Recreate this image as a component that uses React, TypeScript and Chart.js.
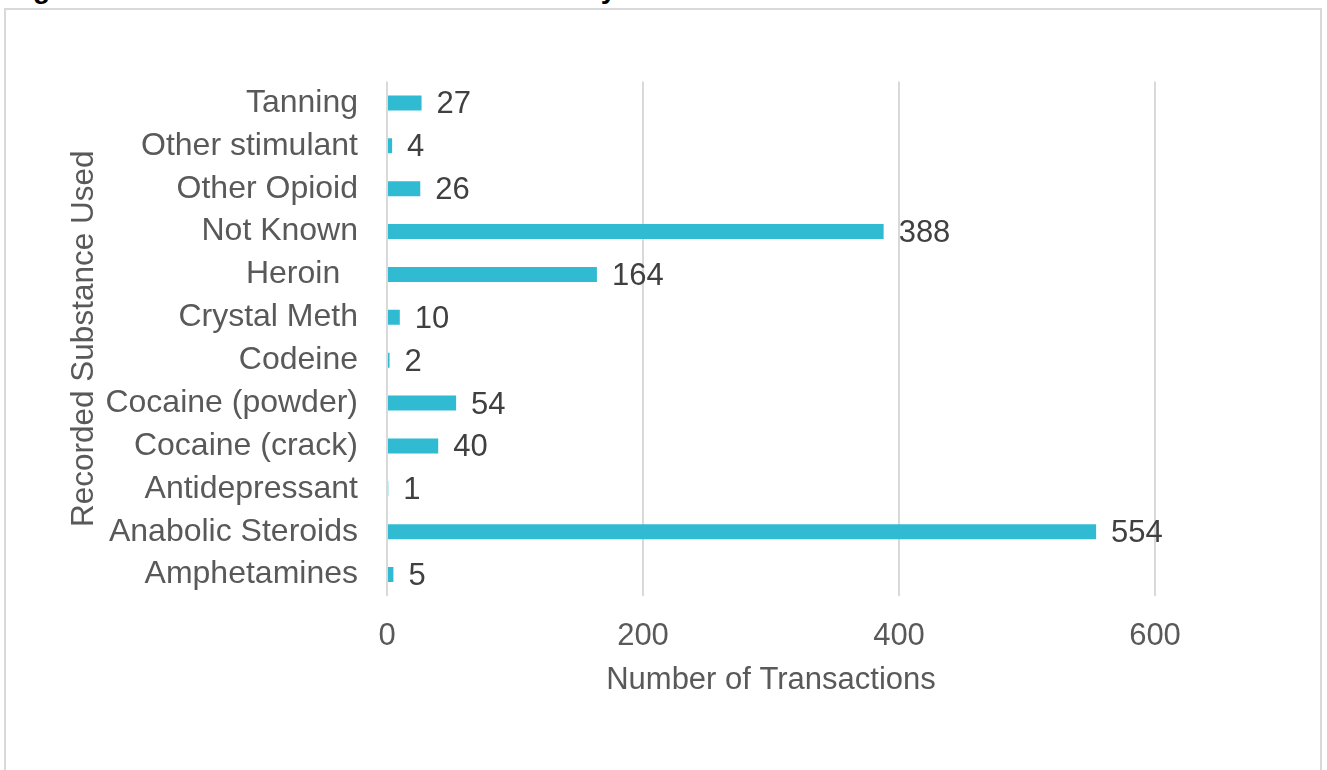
import React, { useEffect, useRef } from 'react';
import { Chart, registerables } from 'chart.js';

Chart.register(...registerables);

const categories = [
  'Tanning',
  'Other stimulant',
  'Other Opioid',
  'Not Known',
  'Heroin  ',
  'Crystal Meth',
  'Codeine',
  'Cocaine (powder)',
  'Cocaine (crack)',
  'Antidepressant',
  'Anabolic Steroids',
  'Amphetamines',
];
const transactions = [27, 4, 26, 388, 164, 10, 2, 54, 40, 1, 554, 5];
const xTicks = [0, 200, 400, 600];

const FONT = '"Liberation Sans", Arial, sans-serif';

const valueLabels = {
  id: 'valueLabels',
  afterDatasetsDraw(chart: any) {
    const ctx = chart.ctx;
    const meta = chart.getDatasetMeta(0);
    ctx.save();
    ctx.font = `31px ${FONT}`;
    ctx.fillStyle = '#404040';
    ctx.textAlign = 'left';
    ctx.textBaseline = 'middle';
    meta.data.forEach((bar: any, i: number) => {
      ctx.fillText(String(transactions[i]), bar.x + 15, bar.y + 2);
    });
    ctx.restore();
  },
};

export default function App() {
  const canvasRef = useRef<HTMLCanvasElement | null>(null);

  useEffect(() => {
    document.body.style.margin = '0';
    const canvas = canvasRef.current;
    if (!canvas) return;
    const chart = new Chart(canvas, {
      type: 'bar',
      data: {
        labels: categories,
        datasets: [
          {
            data: transactions,
            backgroundColor: '#31BBD3',
            borderWidth: 0,
            barPercentage: 0.35,
            categoryPercentage: 1,
          },
        ],
      },
      options: {
        indexAxis: 'y',
        responsive: false,
        animation: false,
        layout: { padding: { left: 59.4, top: 81.5, right: 172, bottom: 67.4 } },
        plugins: {
          legend: { display: false },
          tooltip: { enabled: false },
        },
        scales: {
          x: {
            type: 'linear',
            min: 0,
            max: 600,
            afterBuildTicks: (s: any) => {
              s.ticks = xTicks.map((v) => ({ value: v }));
            },
            afterFit: (s: any) => {
              s.height = 106.6;
            },
            ticks: {
              color: '#595959',
              font: { size: 31, family: FONT },
              padding: 22,
            },
            grid: { color: '#d9d9d9', lineWidth: 2, drawTicks: false },
            border: { display: false },
            title: {
              display: true,
              text: 'Number of Transactions',
              color: '#595959',
              font: { size: 31, family: FONT },
              padding: { top: 4, bottom: 4 },
            },
          },
          y: {
            type: 'category',
            afterFit: (s: any) => {
              s.width = 387 - 59.4;
            },
            ticks: {
              color: '#595959',
              font: { size: 32, family: FONT },
              padding: 29,
            },
            grid: { display: false, drawTicks: false },
            border: { display: false },
            title: {
              display: true,
              text: 'Recorded Substance Used',
              color: '#595959',
              font: { size: 31.5, family: FONT },
              padding: { top: 6, bottom: 4 },
            },
          },
        },
      },
      plugins: [valueLabels],
    });
    return () => chart.destroy();
  }, []);

  return (
    <div style={{ position: 'relative', width: 1327, height: 770, overflow: 'hidden', background: '#fff' }}>
      <div
        style={{
          position: 'absolute',
          left: 8,
          top: -25,
          font: `bold 28px ${FONT}`,
          lineHeight: '28px',
          color: '#000',
          whiteSpace: 'nowrap',
        }}
      >
        Figure 6: Number of transactions recorded by substance
      </div>
      <div
        style={{
          position: 'absolute',
          left: 4,
          top: 8,
          width: 1318,
          height: 800,
          border: '2px solid #d9d9d9',
          boxSizing: 'border-box',
        }}
      />
      <canvas
        ref={canvasRef}
        width={1327}
        height={770}
        style={{ position: 'absolute', left: 0, top: 0 }}
      />
    </div>
  );
}
